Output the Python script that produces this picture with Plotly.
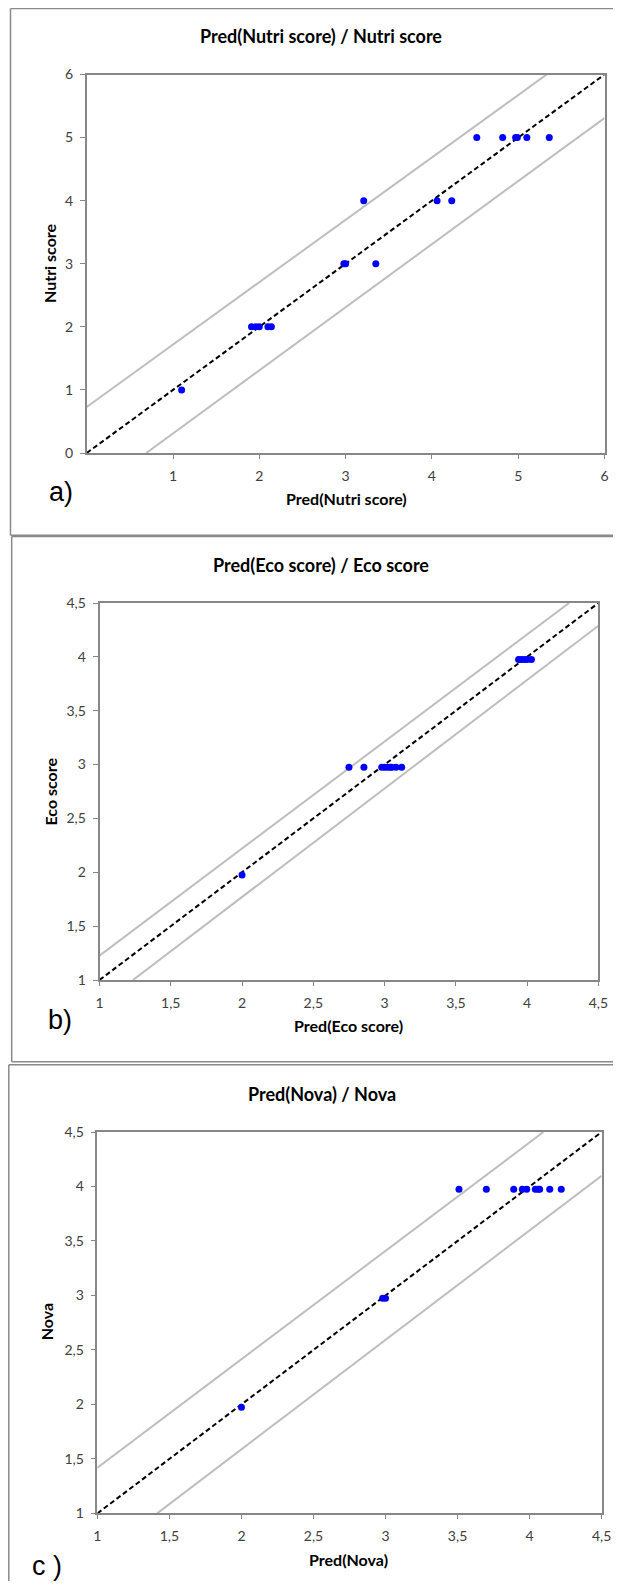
import plotly.graph_objects as go

# The page keeps the browser's 8px body margin, so the figure is sized to fit inside it.
PAGE_W, PAGE_H = 621, 1589
OFF = 8
W, H = PAGE_W - 2 * OFF, PAGE_H - 2 * OFF

# ---------------- data ----------------
# Panel a: Nutri score
nutri_pred = [1.10, 1.91, 1.96, 2.00, 2.10, 2.14, 2.98, 3.00, 3.35, 3.21, 4.06, 4.23, 4.52, 4.82, 4.97, 4.99, 5.10, 5.36]
nutri_true = [1, 2, 2, 2, 2, 2, 3, 3, 3, 4, 4, 4, 5, 5, 5, 5, 5, 5]
nutri_upper_x = [0, 5.33]
nutri_upper_y = [0.73, 6]
nutri_lower_x = [0.69, 6]
nutri_lower_y = [0, 5.31]
nutri_diag = [0, 6]
nutri_xticks = [1, 2, 3, 4, 5, 6]
nutri_yticks = [0, 1, 2, 3, 4, 5, 6]

# Panel b: Eco score
eco_pred = [1.00, 1.04, 2.00, 2.75, 2.855, 2.98, 3.00, 3.02, 3.04, 3.05, 3.08, 3.12, 3.94, 3.96, 3.98, 4.00, 4.03]
eco_true = [0.975, 0.975, 1.975, 2.975, 2.975, 2.975, 2.975, 2.975, 2.975, 2.975, 2.975, 2.975, 3.975, 3.975, 3.975, 3.975, 3.975]
eco_upper_x = [1, 4.294]
eco_upper_y = [1.226, 4.5]
eco_lower_x = [1.235, 4.5]
eco_lower_y = [1, 4.289]
eco_diag = [1, 4.5]

# Panel c: Nova
nova_pred = [1.00, 1.06, 1.08, 2.00, 2.98, 3.00, 3.51, 3.70, 3.89, 3.95, 3.98, 4.04, 4.06, 4.07, 4.14, 4.22]
nova_true = [0.975, 0.975, 0.975, 1.975, 2.975, 2.975, 3.975, 3.975, 3.975, 3.975, 3.975, 3.975, 3.975, 3.975, 3.975, 3.975]
nova_upper_x = [1, 4.096]
nova_upper_y = [1.419, 4.5]
nova_lower_x = [1.415, 4.5]
nova_lower_y = [1, 4.099]
nova_diag = [1, 4.5]

half_ticks = [1, 1.5, 2, 2.5, 3, 3.5, 4, 4.5]
half_labels = ["1", "1,5", "2", "2,5", "3", "3,5", "4", "4,5"]

titles = ["Pred(Nutri score) / Nutri score", "Pred(Eco score) / Eco score", "Pred(Nova) / Nova"]
xtitles = ["Pred(Nutri score)", "Pred(Eco score)", "Pred(Nova)"]
ytitles = ["Nutri score", "Eco score", "Nova"]
panel_labels = ["a)", "b)", "c )"]

# ---------------- geometry (page pixels) ----------------
def px(x):
    return (x - OFF) / W

def py(y):
    return 1 - (y - OFF) / H

plot_boxes = [  # x0, x1, ytop, ybottom
    (86.7, 604.5, 74.5, 453.0),
    (99.5, 598.4, 603.0, 980.0),
    (97.4, 601.6, 1132.0, 1513.4),
]
title_pos = [(321, 36), (321, 565), (321.6, 1094)]
xtitle_pos = [(346.5, 499), (348.5, 1025), (348.5, 1559)]
ytitle_pos = [(49.5, 263.5), (49.5, 792), (46.7, 1321.6)]
label_pos = [(60.5, 492), (60, 1020), (47, 1566)]
# frame: left x, top y, bottom y (None = runs off the page)
frames = [(10.5, 8.6, 535.3), (11.7, 536.5, 1061.7), (8.8, 1064.7, None)]

AX = "#878787"
BAND = "#BEBEBE"
FAM = "Lato, Open Sans, sans-serif"
TICKFONT = dict(family=FAM, size=14, color="#404040")
TITLEFONT = dict(family=FAM, size=18, color="#000000")
AXTFONT = dict(family=FAM, size=16, color="#000000")

panels = [
    (nutri_pred, nutri_true, nutri_upper_x, nutri_upper_y, nutri_lower_x, nutri_lower_y, nutri_diag,
     [0, 6], [0, 6], nutri_xticks, [str(v) for v in nutri_xticks], nutri_yticks, [str(v) for v in nutri_yticks]),
    (eco_pred, eco_true, eco_upper_x, eco_upper_y, eco_lower_x, eco_lower_y, eco_diag,
     [1, 4.5], [1, 4.5], half_ticks, half_labels, half_ticks, half_labels),
    (nova_pred, nova_true, nova_upper_x, nova_upper_y, nova_lower_x, nova_lower_y, nova_diag,
     [1, 4.5], [1, 4.5], half_ticks, half_labels, half_ticks, half_labels),
]

fig = go.Figure()
layout = dict(
    width=W, height=H, margin=dict(l=0, r=0, t=0, b=0, pad=0),
    paper_bgcolor="white", plot_bgcolor="white", showlegend=False,
)
annotations = []
shapes = []

for i, (xp, yt, ux, uy, lx, ly, dg, xr, yr, xtv, xtt, ytv, ytt) in enumerate(panels):
    n = i + 1
    xa = "x" if n == 1 else f"x{n}"
    ya = "y" if n == 1 else f"y{n}"
    xkey = "xaxis" if n == 1 else f"xaxis{n}"
    ykey = "yaxis" if n == 1 else f"yaxis{n}"
    x0, x1, yt0, yb0 = plot_boxes[i]

    layout[xkey] = dict(
        domain=[px(x0), px(x1)], range=xr, anchor=ya, automargin=False,
        showline=True, linecolor=AX, linewidth=1.6, mirror=True,
        ticks="outside", ticklen=4, tickcolor=AX, tickwidth=1,
        tickvals=xtv, ticktext=xtt, tickfont=TICKFONT, ticklabelstandoff=5,
        showgrid=False, zeroline=False,
    )
    layout[ykey] = dict(
        domain=[py(yb0), py(yt0)], range=yr, anchor=xa, automargin=False,
        showline=True, linecolor=AX, linewidth=1.6, mirror=True,
        ticks="outside", ticklen=5, tickcolor=AX, tickwidth=1,
        tickvals=ytv, ticktext=ytt, tickfont=TICKFONT, ticklabelstandoff=4,
        showgrid=False, zeroline=False,
    )
    # inside half of the crossing x ticks
    okey = f"xaxis{n + 3}"
    layout[okey] = dict(
        overlaying=xa, matches=xa, anchor=ya, side="bottom", automargin=False,
        ticks="inside", ticklen=4, tickcolor=AX, tickwidth=1,
        tickvals=xtv, showticklabels=False, showline=False,
        showgrid=False, zeroline=False,
    )

    fig.add_trace(go.Scatter(x=ux, y=uy, mode="lines", line=dict(color=BAND, width=2),
                             xaxis=xa, yaxis=ya, hoverinfo="skip"))
    fig.add_trace(go.Scatter(x=lx, y=ly, mode="lines", line=dict(color=BAND, width=2),
                             xaxis=xa, yaxis=ya, hoverinfo="skip"))
    fig.add_trace(go.Scatter(x=dg, y=dg, mode="lines", line=dict(color="black", width=2, dash="5px,3px"),
                             xaxis=xa, yaxis=ya, hoverinfo="skip"))
    fig.add_trace(go.Scatter(x=xp, y=yt, mode="markers", marker=dict(color="#0000FF", size=7),
                             xaxis=xa, yaxis=ya, cliponaxis=False))

    tx, ty = title_pos[i]
    annotations.append(dict(text="<b>" + titles[i] + "</b>", x=px(tx), y=py(ty), xref="paper", yref="paper",
                            showarrow=False, xanchor="center", yanchor="middle", font=TITLEFONT))
    ax_, ay_ = xtitle_pos[i]
    annotations.append(dict(text="<b>" + xtitles[i] + "</b>", x=px(ax_), y=py(ay_), xref="paper", yref="paper",
                            showarrow=False, xanchor="center", yanchor="middle", font=AXTFONT))
    bx, by = ytitle_pos[i]
    annotations.append(dict(text="<b>" + ytitles[i] + "</b>", x=px(bx), y=py(by), xref="paper", yref="paper",
                            showarrow=False, xanchor="center", yanchor="middle", textangle=-90, font=AXTFONT))
    lx_, ly_ = label_pos[i]
    annotations.append(dict(text=panel_labels[i], x=px(lx_), y=py(ly_), xref="paper", yref="paper",
                            showarrow=False, xanchor="center", yanchor="middle",
                            font=dict(family="Liberation Sans, Arial, sans-serif", size=27, color="black")))
    fx, ftop, fbot = frames[i]
    fb = 0 if fbot is None else py(fbot)
    fl = dict(color="#8A8A8A", width=1.5)
    shapes.append(dict(type="line", xref="paper", yref="paper", x0=px(fx), x1=px(fx), y0=fb, y1=py(ftop), line=fl))
    shapes.append(dict(type="line", xref="paper", yref="paper", x0=px(fx), x1=1, y0=py(ftop), y1=py(ftop), line=fl))
    if fbot is not None:
        shapes.append(dict(type="line", xref="paper", yref="paper", x0=px(fx), x1=1, y0=fb, y1=fb, line=fl))

layout["annotations"] = annotations
layout["shapes"] = shapes
fig.update_layout(**layout)

fig.write_html("out.html", config={"displayModeBar": False})
